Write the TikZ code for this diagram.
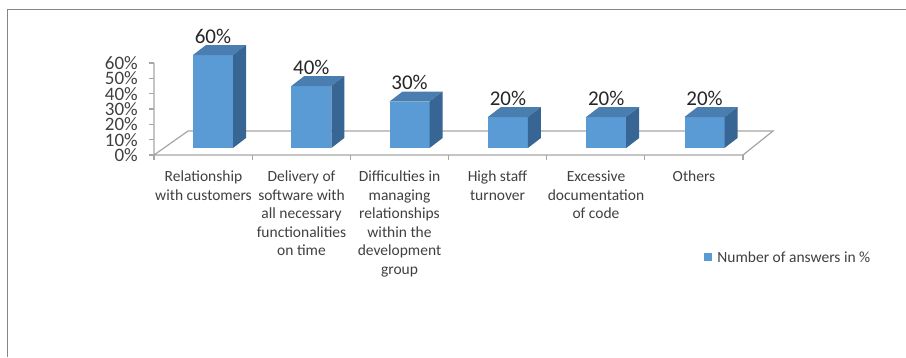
\documentclass[tikz,border=0pt]{standalone}
\usepackage{fontspec}
\setmainfont{Carlito}
\usepackage{xcolor}
\usetikzlibrary{positioning}
\definecolor{barfront}{HTML}{5B9BD5}
\definecolor{bartop}{HTML}{4A7EB1}
\definecolor{barside}{HTML}{386694}
\definecolor{gridgray}{HTML}{A6A6A6}
\definecolor{framegray}{HTML}{868686}
\definecolor{labelgray}{HTML}{404040}
\definecolor{valuegray}{HTML}{262626}

\begin{document}
\begin{tikzpicture}[x=1pt, y=-1pt, every node/.style={inner sep=0pt, text=labelgray}, catlabel/.style={anchor=north, align=center, font=\fontsize{15.5}{18.5}\selectfont}, valuelabel/.style={font=\fontsize{21}{24}\selectfont, text=valuegray}, axislabel/.style={anchor=east, font=\fontsize{19}{20}\selectfont}, floorline/.style={draw=gridgray, line width=1.2pt}, frameline/.style={draw=framegray, line width=0.9pt}, frontface/.style={fill=barfront}, topface/.style={fill=bartop}, sideface/.style={fill=barside}]
\useasboundingbox (0,0) rectangle (906,357);
\draw[frameline] (7,357) -- (7,9) -- (906,9);

\draw[floorline] (154,63) -- (154,155) -- (743,155) -- (773,131) -- (188,131) -- (154,155);
\foreach \k in {0,...,6} {
  \draw[floorline] (149,155-15.33*\k) -- (154,155-15.33*\k);
  \draw[floorline] (154+98.17*\k,155) -- (154+98.17*\k,160);
  \pgfmathtruncatemacro\pct{10*\k}
  \node[axislabel] (ytick\k) at (138,155-15.33*\k) {\pct\%};
}

\foreach \v [count=\i from 0] in {60,40,30,20,20,20} {
  \pgfmathsetmacro\xl{193+98.3*\i}
  \pgfmathsetmacro\yt{148-1.55*\v}
  \fill[frontface] (\xl,148) rectangle (\xl+40,\yt);
  \fill[topface] (\xl,\yt) -- (\xl+13,\yt-10) -- (\xl+53,\yt-10) -- (\xl+40,\yt) -- cycle;
  \fill[sideface] (\xl+40,\yt) -- (\xl+53,\yt-10) -- (\xl+53,138) -- (\xl+40,148) -- cycle;
  \node[valuelabel] (val\i) at (\xl+20,\yt-19) {\v\%};
}

\node[catlabel] (cust) at (203.5,171) {Relationship\\with customers};
\node[catlabel] (delivery) at (301.5,171) {Delivery of\\software with\\all necessary\\functionalities\\on time};
\node[catlabel] (managing) at (399.5,171) {Difficulties in\\managing\\relationships\\within the\\development\\group};
\node[catlabel] (turnover) at (497.5,171) {High staff\\turnover};
\node[catlabel] (docs) at (596,171) {Excessive\\documentation\\of code};
\node[catlabel] (others) at (694,171) {Others};

\node[fill=barfront, minimum size=8pt] (key) at (708,257) {};
\node[right=5pt of key, font=\fontsize{15.5}{18.5}\selectfont] (legend) {Number of answers in \%};
\end{tikzpicture}
\end{document}
